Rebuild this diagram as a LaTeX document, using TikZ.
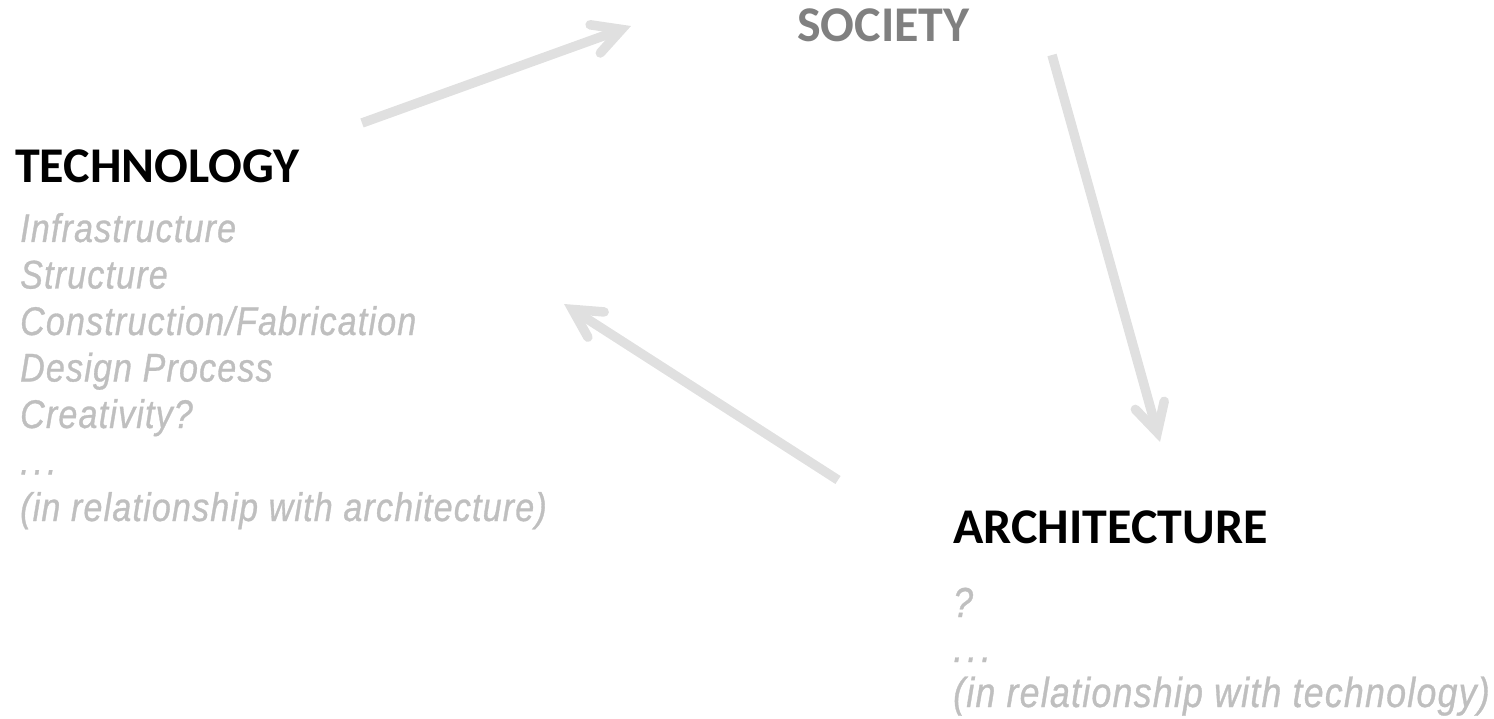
\documentclass[tikz,border=0pt]{standalone}
\usepackage{fontspec}
\usetikzlibrary{arrows.meta}
\newfontfamily\hdfont{Carlito}[BoldFont={Carlito Bold}]
\newfontfamily\grfont{Liberation Sans}[FakeStretch=0.85,LetterSpace=3,FakeBold=0.8]
\definecolor{arrowgray}{HTML}{E0E0E0}
\definecolor{textgray}{HTML}{BFBFBF}
\definecolor{socgray}{HTML}{808080}
\newcommand{\spdots}{.\kern4pt.\kern4pt.}
\tikzset{
  headtext/.style={anchor=base west, inner sep=0pt, font=\hdfont\bfseries\fontsize{50}{58}\selectfont},
  listtext/.style={anchor=base west, inner sep=0pt, text=textgray, font=\grfont\itshape\fontsize{40}{46.5}\selectfont},
  listtextb/.style={listtext, font=\grfont\itshape\fontsize{42}{46.5}\selectfont},
  flowarrow/.style={draw=arrowgray, line width=9.5pt, line cap=butt,
    -{Straight Barb[length=28pt,width=30pt,line cap=round,line join=miter]}}
}
\begin{document}
\begin{tikzpicture}[x=1pt,y=-1pt]
\useasboundingbox (0,0) rectangle (1494,719);
\node[headtext, text=socgray] (soc) at (797,42) {SOCIETY};
\node[headtext] (tech) at (15,183) {TECHNOLOGY};
\node[headtext] (arch) at (953,543) {ARCHITECTURE};
\node[listtext] (t1) at (20,242) {Infrastructure};
\node[listtext] (t2) at (20,288.5) {Structure};
\node[listtext] (t3) at (20,335) {Construction/Fabrication};
\node[listtext] (t4) at (20,381.5) {Design Process};
\node[listtext] (t5) at (20,428) {Creativity?};
\node[listtext] (t6) at (20,474.5) {\spdots};
\node[listtext] (t7) at (20,521) {(in relationship with architecture)};
\node[listtextb] (a1) at (953,617) {?};
\node[listtextb] (a2) at (953,662) {\spdots};
\node[listtextb] (a3) at (953,707) {(in relationship with technology)};
\coordinate (a1s) at (362,123);
\coordinate (a1e) at (631,26);
\coordinate (a2s) at (1052,55);
\coordinate (a2e) at (1160,442);
\coordinate (a3s) at (838,480);
\coordinate (a3e) at (564,304);
\draw[flowarrow] (a1s) -- (a1e);
\draw[flowarrow] (a2s) -- (a2e);
\draw[flowarrow] (a3s) -- (a3e);
\end{tikzpicture}
\end{document}
